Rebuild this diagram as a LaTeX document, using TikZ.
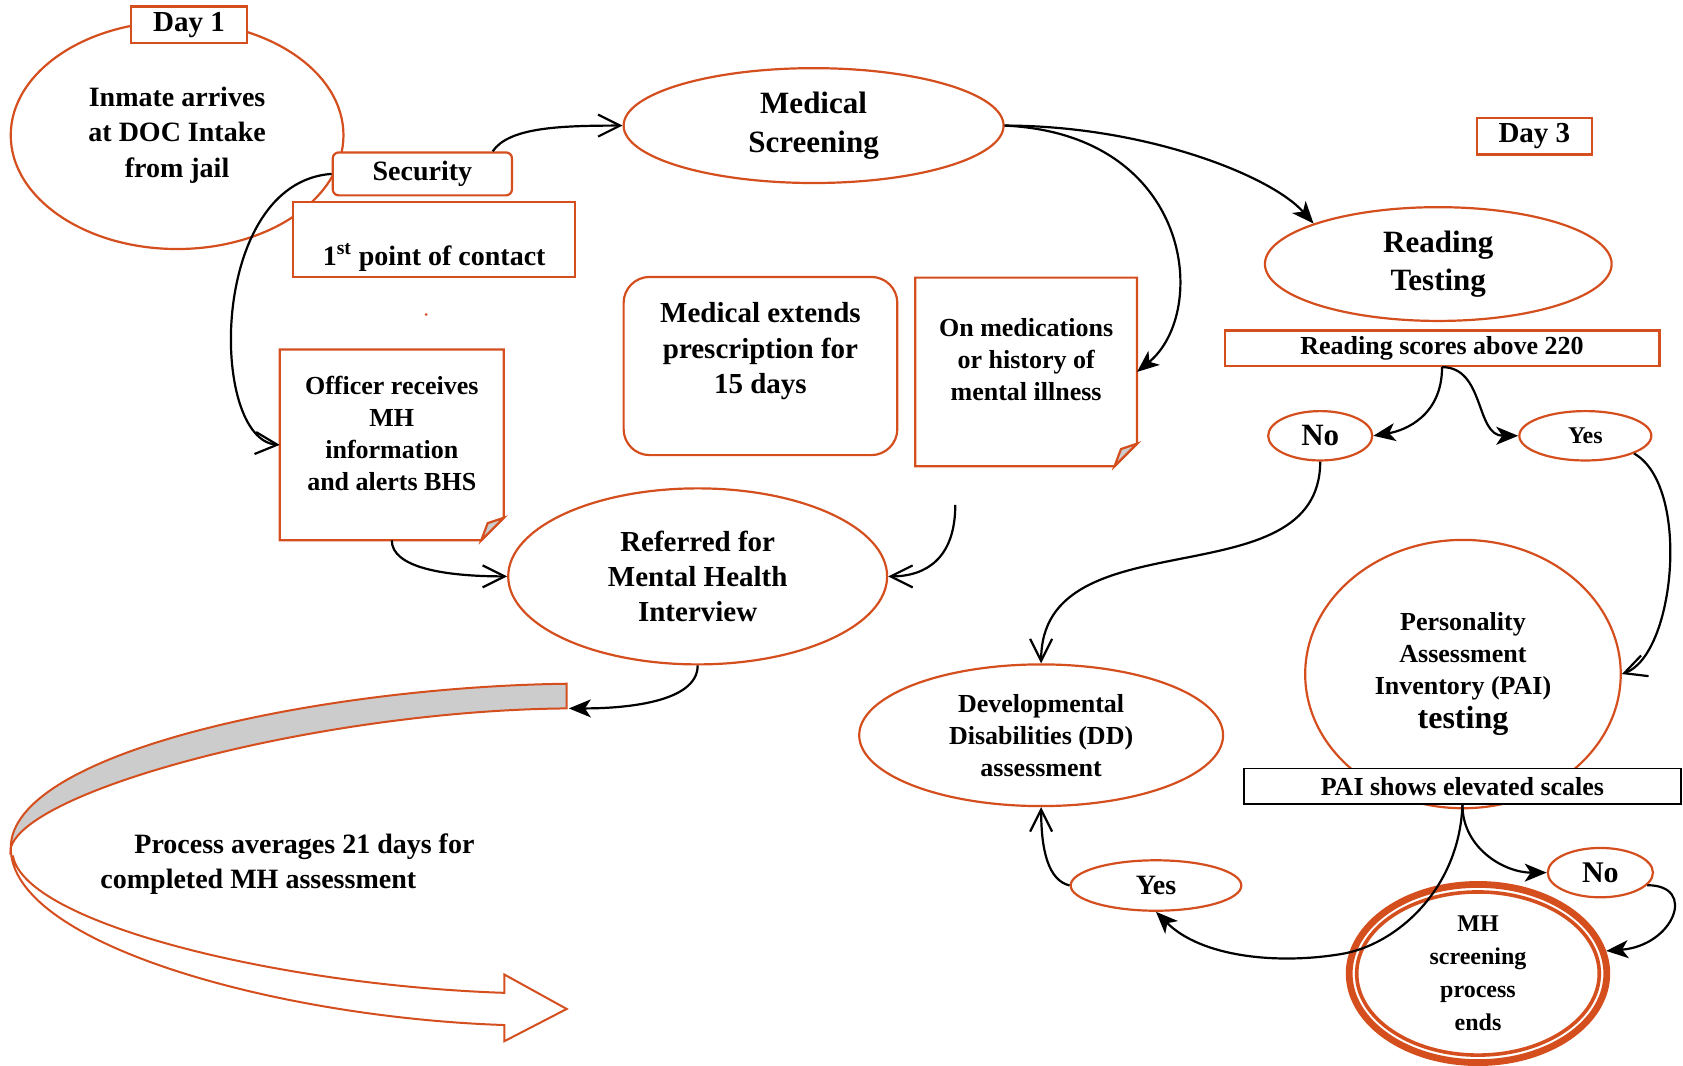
\documentclass[tikz,border=0pt]{standalone}
\usepackage{fontspec}
\setmainfont{Liberation Serif}
\usetikzlibrary{shapes.geometric, arrows.meta, positioning, calc}
\definecolor{brick}{RGB}{212,78,30}
\definecolor{fold}{RGB}{204,204,204}
\newcommand{\dpx}[1]{#1*0.5367pt}
\newcommand{\fs}[2]{\fontsize{#1}{#2}\selectfont\bfseries}
\tikzset{
  oval/.style={ellipse, draw=brick, line width=1.1pt, fill=white, inner sep=0pt, align=center},
  tag/.style={rectangle, draw=brick, line width=1.1pt, fill=white, inner sep=0pt, align=center},
  card/.style={rectangle, rounded corners=13pt, draw=brick, line width=1.1pt, inner sep=0pt, align=center},
  notebox/.style={rectangle, inner sep=0pt, align=center},
  arrO/.style={-{Straight Barb[length=11pt, width=11pt]}, line width=1.1pt},
  arrF/.style={-{Stealth[length=11pt, width=9pt, inset=3pt]}, line width=1.1pt},
}
% note with folded corner
\newcommand{\foldnote}[1]{%
  \draw[brick, line width=1.1pt] (#1.north west) -- (#1.north east) -- ($(#1.south east)+(0,-21)$)
    -- ($(#1.south east)+(-21,0)$) -- (#1.south west) -- cycle;
  \draw[brick, line width=1.1pt, fill=fold] ($(#1.south east)+(0,-21)$) -- ($(#1.south east)+(-21,0)$)
    -- ($(#1.south east)+(-15,-16)$) -- cycle;}

\begin{document}
\begin{tikzpicture}[x=0.5367pt, y=-0.5367pt]
  \useasboundingbox (0,0) rectangle (1568,993);

  % Day 1
  \node[oval, minimum width=\dpx{310}, minimum height=\dpx{212}, font=\fs{14}{17.7}] (inmate) at (165,126) {Inmate arrives\\at DOC Intake\\from jail};
  \node[tag, minimum width=\dpx{108}, minimum height=\dpx{34}, font=\fs{14.5}{17}] (day1) at (176,23) {Day 1};
  \node[tag, rounded corners=3pt, minimum width=\dpx{167}, minimum height=\dpx{40}, font=\fs{14}{17}] (sec) at (393.5,162) {Security};
  \node[tag, minimum width=\dpx{263}, minimum height=\dpx{70}, font=\fs{14}{17.7}] (first) at (404.5,223) {\mbox{}\\[11pt]1\textsuperscript{st} point of contact};
  \fill[brick] (397,293) circle (0.8pt);

  \node[oval, minimum width=\dpx{354}, minimum height=\dpx{107}, font=\fs{15.5}{19.3}] (med) at (758,117) {Medical\\Screening};
  \node[card, minimum width=\dpx{255}, minimum height=\dpx{166}, font=\fs{14.5}{17.7}] (ext) at (708.5,341) {Medical extends\\prescription for\\15 days\\\mbox{}};
  \node[notebox, minimum width=\dpx{206}, minimum height=\dpx{175}, font=\fs{13}{16}] (meds) at (956,346.5) {On medications\\or history of\\mental illness\\[-4pt]\mbox{}};
  \foldnote{meds}
  \node[notebox, minimum width=\dpx{208}, minimum height=\dpx{177}, font=\fs{13}{16}] (off) at (365,414.5) {Officer receives\\MH\\information\\and alerts BHS\\[-4pt]\mbox{}};
  \foldnote{off}
  \node[oval, minimum width=\dpx{353}, minimum height=\dpx{164}, font=\fs{14.5}{17.7}] (ref) at (650,537) {Referred for\\Mental Health\\Interview};

  % Day 3
  \node[tag, minimum width=\dpx{107}, minimum height=\dpx{34}, font=\fs{14.5}{17}] (day3) at (1429.5,127) {Day 3};
  \node[oval, minimum width=\dpx{323}, minimum height=\dpx{106}, font=\fs{15.5}{19.3}] (read) at (1340,246) {Reading\\Testing};
  \node[tag, minimum width=\dpx{405}, minimum height=\dpx{33}, font=\fs{13}{16}] (rs) at (1343.5,324.5) {Reading scores above 220};
  \node[oval, minimum width=\dpx{97}, minimum height=\dpx{46}, font=\fs{15.5}{17}] (noUp) at (1230,406) {No};
  \node[oval, minimum width=\dpx{123}, minimum height=\dpx{46}, font=\fs{12}{14}] (yesUp) at (1477,406) {Yes};
  \node[oval, minimum width=\dpx{294}, minimum height=\dpx{250}, font=\fs{13}{16}] (pers) at (1363,628) {Personality\\Assessment\\Inventory (PAI)\\[1pt]\fontsize{16}{17}\selectfont testing};
  \node[tag, draw=black, line width=0.9pt, minimum width=\dpx{407}, minimum height=\dpx{33}, font=\fs{13}{16}] (pai) at (1362.5,732.5) {PAI shows elevated scales};
  \node[oval, minimum width=\dpx{339}, minimum height=\dpx{132}, font=\fs{13}{16}] (dd) at (970,685) {Developmental\\Disabilities (DD)\\assessment};
  \node[oval, minimum width=\dpx{159}, minimum height=\dpx{47}, font=\fs{14}{17}] (yesLow) at (1077,825) {Yes};
  \node[oval, minimum width=\dpx{98}, minimum height=\dpx{46}, font=\fs{15}{17}] (noLow) at (1491,813) {No};
  \node[oval, line width=3.4pt, fill=none, minimum width=\dpx{240}, minimum height=\dpx{166}, font=\fs{12}{16.5}] (mh) at (1377,907) {MH\\screening\\process\\ends};
  \draw[brick, line width=1.8pt] (mh.center) ellipse [x radius=\dpx{113}, y radius=\dpx{76}];

  % 21 day arrow
  \draw[brick, line width=1pt, fill=fold] (528,637) .. controls (300,640) and (10,700) .. (10,790)
    .. controls (25,735) and (300,662) .. (528,660) -- cycle;
  \draw[brick, line width=1pt] (10,790) .. controls (10,880) and (260,948) .. (470,955) -- (470,970) -- (528,940)
    -- (470,908) -- (470,925) .. controls (260,918) and (22,860) .. (12,797);
  \node[anchor=west, align=left, font=\fs{14}{17.2}] (avg) at (87,805) {\hspace{17pt}Process averages 21 days for\\completed MH assessment};
  \coordinate (bandEnd) at (530,660);
  \coordinate (medsTail) at ($(meds.south)+(-66,36)$);

  % connectors
  \draw[arrO] ($(sec.north east)+(-19,0)$) .. controls +(15,-22) and +(-60,0) .. (med.west);
  \draw[arrO] (sec.west) .. controls +(-115,8) and +(-66,-5) .. (off.west);
  \draw[arrF] (med.east) .. controls +(130,0) and +(-40,-45) .. (read.162);
  \draw[arrF] (med.east) .. controls +(175,8) and +(68,-56) .. (meds.east);
  \draw[arrO] (off.south) .. controls +(0,25) and +(-60,0) .. (ref.west);
  \draw[arrO] (medsTail) .. controls +(0,50) and +(35,0) .. (ref.east);
  \draw[arrF] (ref.south) .. controls +(0,35) and +(50,0) .. (bandEnd);
  \draw[arrF] (rs.south) .. controls +(0,45) and +(30,-5) .. (noUp.east);
  \draw[arrF] (rs.south) .. controls +(40,0) and +(-40,0) .. (yesUp.west);
  \draw[arrO] (noUp.south) .. controls +(0,131) and +(0,-139) .. (dd.north);
  \draw[arrO] (yesUp.-20) .. controls +(53,30) and +(50,-18) .. (pers.east);
  \draw[arrF] (pai.south) .. controls +(0,40) and +(-40,0) .. (noLow.west);
  \draw[arrF] (pai.south) .. controls +(-3,80) and +(50,-8) .. ($(pai.south)+(-113,139)$)
    .. controls +(-60,10) and +(42,42) .. (yesLow.south);
  \draw[arrO] (yesLow.west) .. controls +(-20,-5) and +(0,40) .. (dd.south);
  \draw[arrF] (noLow.-15) .. controls +(47,0) and +(63,-5) .. (mh.10);
\end{tikzpicture}
\end{document}
